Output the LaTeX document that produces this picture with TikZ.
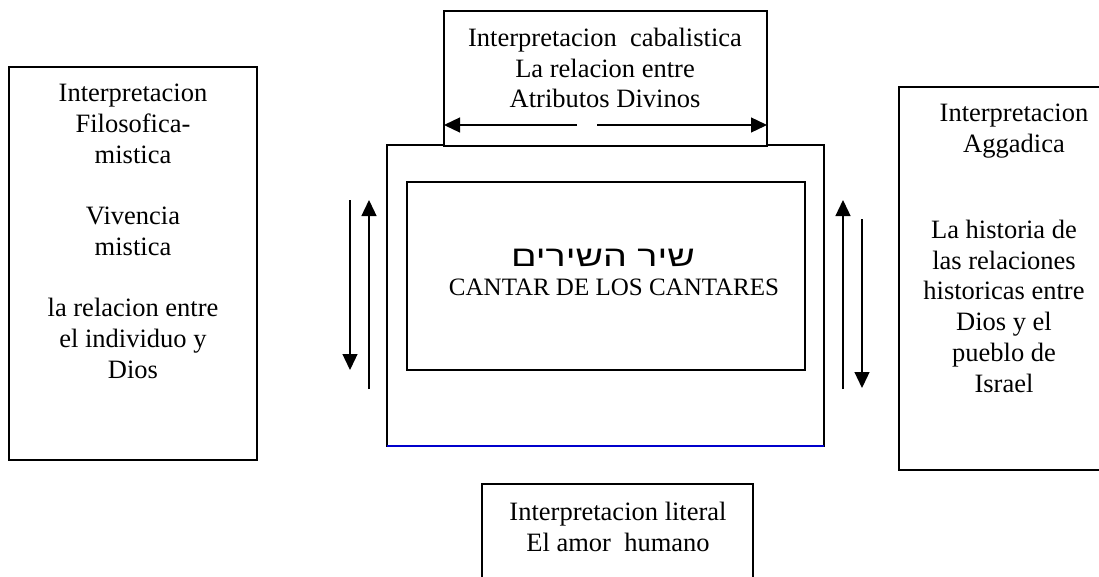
\documentclass[tikz,border=0pt]{standalone}
\usepackage{fontspec}
\setmainfont{Liberation Serif}
\newfontfamily\hebfont[Script=Hebrew,FakeStretch=1.3]{Liberation Sans}
\TeXXeTstate=1
\usetikzlibrary{arrows.meta}
\definecolor{lineblue}{RGB}{0,0,204}
\begin{document}
\begin{tikzpicture}[x=1pt,y=-1pt,
  box/.style={draw, line width=1.3pt, inner sep=0pt, outer sep=0pt, fill=white, anchor=north west},
  txt/.style={align=center, inner sep=0pt, anchor=north, font=\fontsize{26.5}{30.7}\selectfont},
  arr/.style={line width=1.3pt, -{Triangle[length=16pt,width=15pt]}}]
\useasboundingbox (0,0) rectangle (1099,576);
\clip (0,0) rectangle (1099,576);
% boxes
\node[box, minimum width=248pt, minimum height=393pt] (left) at (9,67) {};
\node[box, minimum width=240pt, minimum height=383pt] (right) at (899,87) {};
\node[box, minimum width=437pt, minimum height=301pt] (big) at (387,145) {};
\node[box, minimum width=323pt, minimum height=135pt] (top) at (444,11) {};
\node[box, minimum width=398pt, minimum height=188pt] (inner) at (407,182) {};
\node[box, minimum width=271pt, minimum height=120pt] (bottom) at (482,484) {};
\draw[lineblue, line width=1.5pt] (big.south west) -- (big.south east);
% texts
\node[txt] (toptxt) at (605,28) {Interpretacion\ \ cabalistica\\La relacion entre\\Atributos Divinos};
\node[txt] (lefttxt) at (133,84) {Interpretacion\\Filosofica-\\mistica\\[30.7pt]Vivencia\\mistica\\[30.7pt]la relacion entre\\el individuo y\\Dios};
\node[txt] (righthead) at (1014,104) {Interpretacion\\Aggadica};
\node[txt] (rightbody) at (1004,220) {La historia de\\las relaciones\\historicas entre\\Dios y el\\pueblo de\\Israel};
\node[txt] (bottomtxt) at (618,502) {Interpretacion literal\\El amor\ \ humano};
\node[inner sep=0pt, anchor=base, font=\hebfont\fontsize{29}{34}\selectfont] (heb) at (603,266) {\beginR שיר השירים\endR};
\node[inner sep=0pt, anchor=base, font=\fontsize{25}{29}\selectfont] (cantar) at (614,295) {CANTAR DE LOS CANTARES};
% arrows
\coordinate (ta1) at (577,125); \coordinate (ta2) at (597,125);
\draw[arr] (ta1) -- (top.west |- ta1);
\draw[arr] (ta2) -- (top.east |- ta2);
\coordinate (l1s) at (350,200); \coordinate (l1e) at (350,370);
\coordinate (l2s) at (369,389); \coordinate (l2e) at (369,200);
\coordinate (r1s) at (843,389); \coordinate (r1e) at (843,200);
\coordinate (r2s) at (862,219); \coordinate (r2e) at (862,388);
\draw[arr] (l1s) -- (l1e);
\draw[arr] (l2s) -- (l2e);
\draw[arr] (r1s) -- (r1e);
\draw[arr] (r2s) -- (r2e);
\end{tikzpicture}
\end{document}
